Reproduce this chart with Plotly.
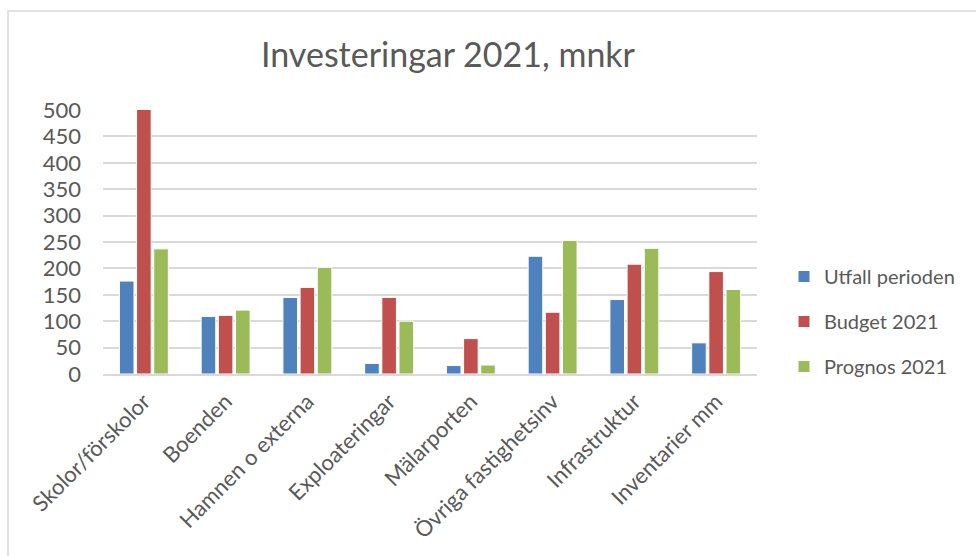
import plotly.graph_objects as go

categories = ['Skolor/förskolor', 'Boenden', 'Hamnen o externa', 'Exploateringar',
              'Mälarporten', 'Övriga fastighetsinv', 'Infrastruktur', 'Inventarier mm']
utfall = [176, 109, 145, 20, 16, 223, 141, 59]
budget = [502, 111, 164, 145, 67, 117, 208, 194]
prognos = [237, 121, 202, 100, 17, 253, 238, 160]

series = [
    ('Utfall perioden', utfall, '#4F81BD'),
    ('Budget 2021', budget, '#C0504D'),
    ('Prognos 2021', prognos, '#9BBB59'),
]

font_family = 'Lato, Carlito, Calibri, sans-serif'
text_grey = '#595959'

fig = go.Figure()
for name, vals, col in series:
    fig.add_trace(go.Bar(
        x=categories, y=vals, name=name,
        marker=dict(color=col, line=dict(color='white', width=1)),
        legendgroup=name,
    ))

# plot area in pixels: x 103..757, y 110..374
W, H = 976, 556
L, R, T, B = 103, 757, 110, 374
pw, ph = R - L, B - T

fig.update_layout(
    width=W, height=H,
    margin=dict(l=L, r=W - R, t=T, b=H - B),
    paper_bgcolor='white', plot_bgcolor='white',
    font=dict(family=font_family, color=text_grey, size=20),
    title=dict(text='Investeringar 2021, mnkr', x=448 / W, xanchor='center',
               y=1 - 55 / H, yanchor='middle',
               font=dict(size=34, color=text_grey, family=font_family)),
    barmode='group', bargap=0.37, bargroupgap=0.15,
    legend=dict(x=(784 - L) / pw, xanchor='left', y=1 - (257 - T) / ph, yanchor='top',
                traceorder='grouped', tracegroupgap=16,
                font=dict(size=20, color=text_grey), itemwidth=30),
    showlegend=True,
    xaxis=dict(tickangle=-45, showgrid=False, showline=True, linecolor='#D9D9D9',
               linewidth=2, ticks='', ticklabelstandoff=4,
               tickfont=dict(size=22, color=text_grey)),
    yaxis=dict(range=[0, 500], dtick=50, showgrid=True, gridcolor='#D9D9D9',
               gridwidth=1.5, zeroline=False, showline=False, ticks='',
               ticklabelstandoff=21,
               tickfont=dict(size=22, color=text_grey)),
    shapes=[dict(type='rect', xref='paper', yref='paper',
                 x0=(8 - L) / pw, x1=(990 - L) / pw,
                 y0=1 - (570 - T) / ph, y1=1 - (11 - T) / ph,
                 line=dict(color='#D9D9D9', width=1.5), layer='below')],
)

fig.write_html('out.html', config={'displayModeBar': False})

# drop the browser's default body margin so the chart sits at 0,0
with open('out.html', encoding='utf-8') as f:
    html = f.read()
html = html.replace('<body>', '<body style="margin:0">', 1)
with open('out.html', 'w', encoding='utf-8') as f:
    f.write(html)
